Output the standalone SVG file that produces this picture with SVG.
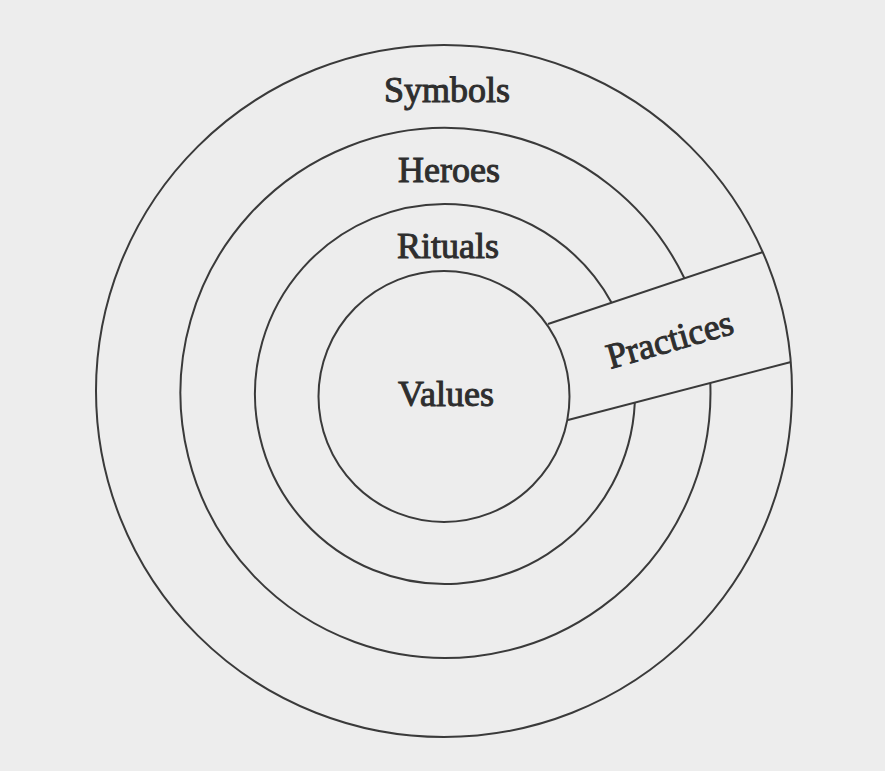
<svg xmlns="http://www.w3.org/2000/svg" width="885" height="771" viewBox="0 0 885 771">
  <style>
    .ring { fill: none; stroke: #3a3a3a; stroke-width: 2; }
    .lbl { font-family: "Liberation Serif", "DejaVu Serif", serif; font-size: 36px; fill: #2e2e2e; stroke: #2e2e2e; stroke-width: 1; text-anchor: middle; }
  </style>
  <rect x="0" y="0" width="885" height="771" fill="#ededed"/>
  <g id="symbols">
    <ellipse class="ring" cx="444" cy="391" rx="348" ry="346"/>
    <text class="lbl" x="447" y="102">Symbols</text>
  </g>
  <g id="heroes">
    <path class="ring" d="M 710.3 383 A 265 265 0 1 1 684.4 278.3"/>
    <text class="lbl" x="449" y="182">Heroes</text>
  </g>
  <g id="rituals">
    <path class="ring" d="M 634.8 402.6 A 190 190 0 1 1 611.6 302.7"/>
    <text class="lbl" x="448" y="258">Rituals</text>
  </g>
  <g id="values">
    <circle class="ring" cx="444" cy="396.5" r="125.5"/>
    <text class="lbl" x="446" y="406">Values</text>
  </g>
  <g id="practices">
    <line class="ring" x1="548" y1="324" x2="763" y2="252"/>
    <line class="ring" x1="568" y1="420" x2="791" y2="362"/>
    <text class="lbl" x="673" y="351" transform="rotate(-16 673 351)">Practices</text>
  </g>
  <g id="connectors"></g>
</svg>
